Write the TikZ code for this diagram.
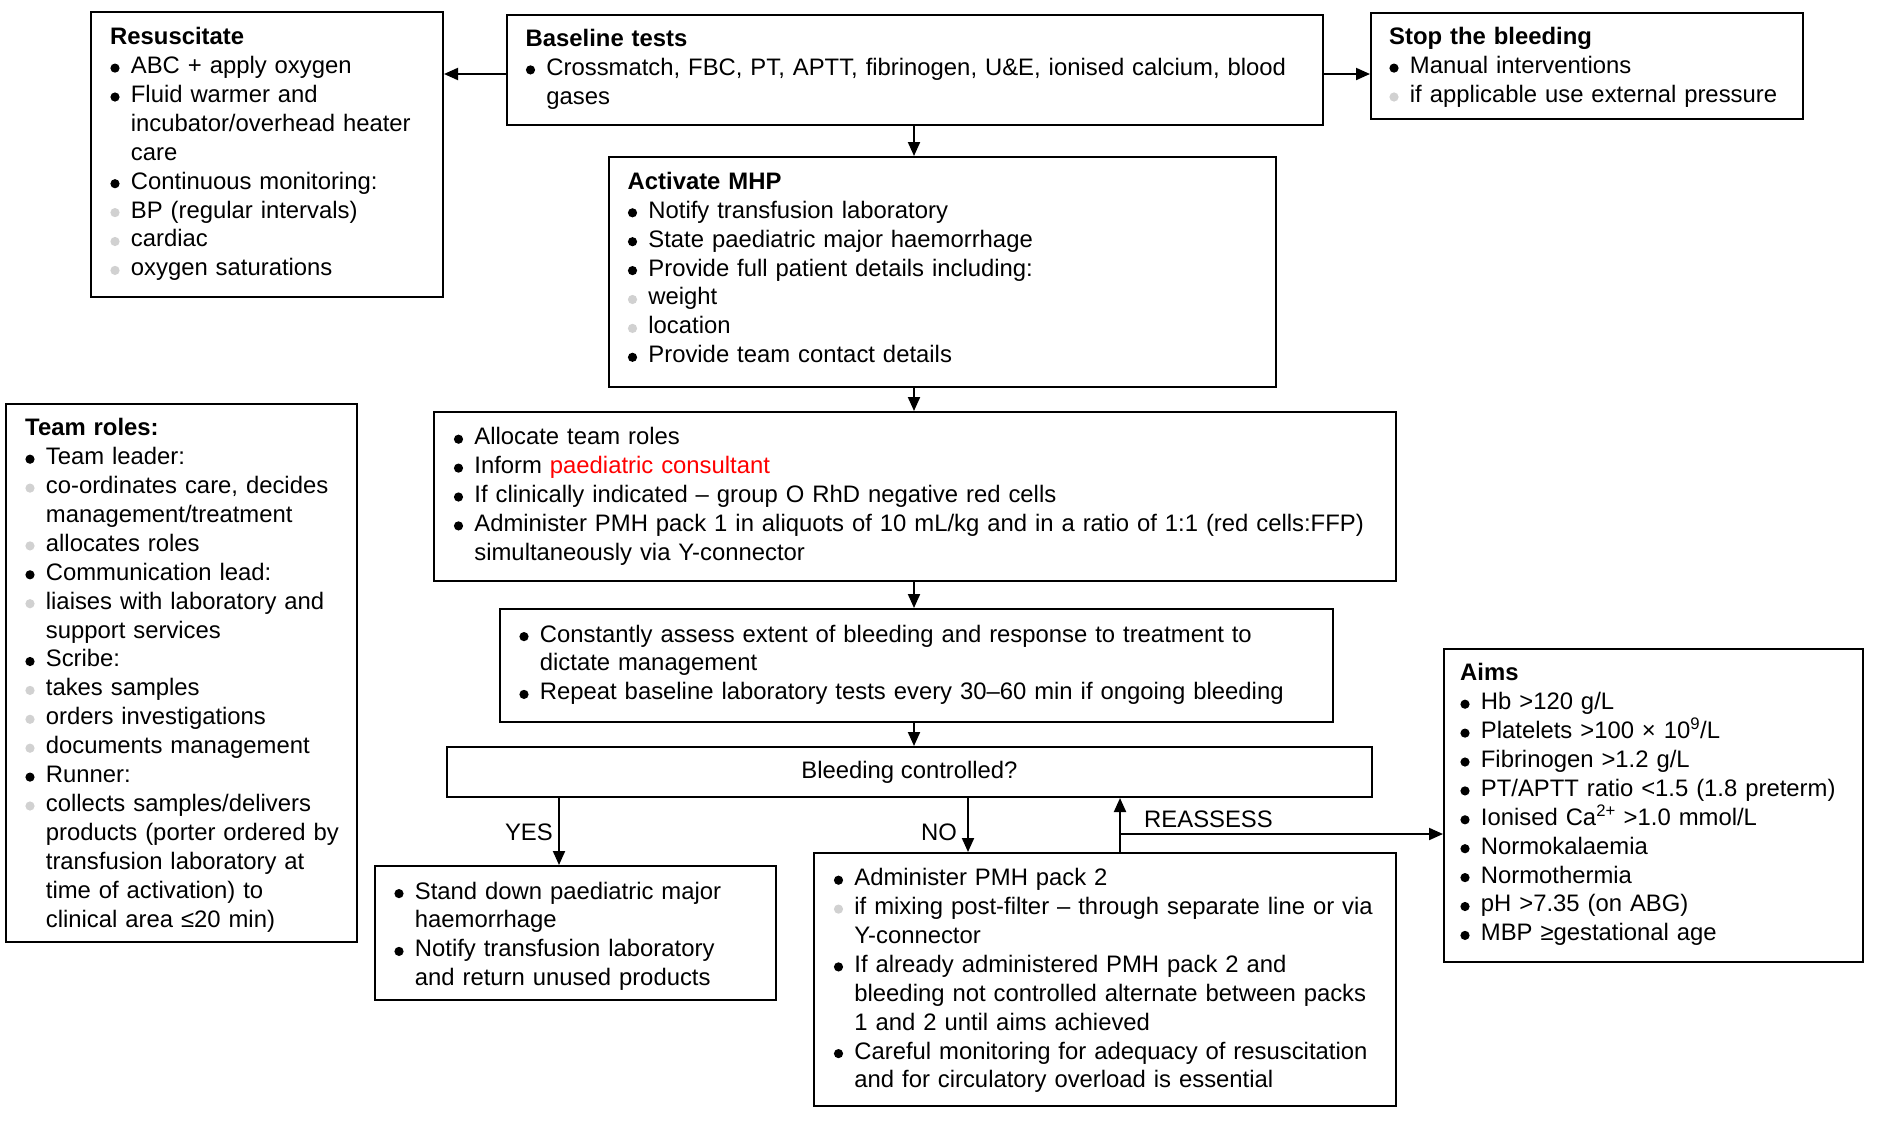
\documentclass[tikz,border=0pt]{standalone}
\usepackage{fontspec}
\setmainfont{Liberation Sans}
\usetikzlibrary{arrows.meta,calc}
\definecolor{subgray}{gray}{0.82}
\newcommand{\dotmark}[1]{\raisebox{0.8pt}{\tikz\fill[#1] (0pt,0pt) circle[radius=4.6pt];}}
\newcommand{\bul}{\makebox[20.7pt][l]{\hspace{0.2pt}\dotmark{black}}}
\newcommand{\sbul}{\makebox[20.7pt][l]{\hspace{0.2pt}\dotmark{subgray}}}
\newcommand{\itm}[1]{\par\hangindent=20.7pt\hangafter=1\noindent\bul#1}
\newcommand{\sitm}[1]{\par\hangindent=20.7pt\hangafter=1\noindent\sbul#1}
\newcommand{\fitm}[1]{\hangindent=20.7pt\hangafter=1\bul#1}
\newcommand{\hd}[1]{\noindent{\bfseries #1}}
\begin{document}
\begin{tikzpicture}[x=1pt,y=-1pt,
  box/.style={draw, line width=2pt, rectangle, inner sep=0pt, anchor=north west},
  txt/.style={inner sep=0pt, anchor=base west, font=\fontsize{23.85pt}{28.9pt}\selectfont, text width=1300pt},
  lbl/.style={inner sep=0pt, font=\fontsize{23.85pt}{28.9pt}\selectfont},
  arr/.style={line width=2pt, -{Triangle[length=14pt,width=12pt]}}]
\useasboundingbox (0,0) rectangle (1878,1120);
\fill[white] (0,0) rectangle (1878,1120);

% boxes
\node[box, minimum width=352pt, minimum height=285pt] (res) at (90,11) {};
\node[box, minimum width=816pt, minimum height=110pt] (base) at (506,14) {};
\node[box, minimum width=432pt, minimum height=106pt] (stop) at (1370,12) {};
\node[box, minimum width=667pt, minimum height=230pt] (mhp) at (608,156) {};
\node[box, minimum width=962pt, minimum height=169pt] (alloc) at (433,411) {};
\node[box, minimum width=833pt, minimum height=113pt] (const) at (499,608) {};
\node[box, minimum width=351pt, minimum height=538pt] (team) at (5,403) {};
\node[box, minimum width=925pt, minimum height=50pt, font=\fontsize{23.85pt}{28.9pt}\selectfont] (bleed) at (446,746) {Bleeding controlled?};
\node[box, minimum width=401pt, minimum height=134pt] (yesbox) at (374,865) {};
\node[box, minimum width=582pt, minimum height=253pt] (nobox) at (813,852) {};
\node[box, minimum width=419pt, minimum height=313pt] (aims) at (1443,648) {};

% texts
\node[txt] (res-t) at (110,44.6) {\hd{Resuscitate}
\itm{ABC + apply oxygen}
\itm{Fluid warmer and\newline incubator/overhead heater\newline care}
\itm{Continuous monitoring:}
\sitm{BP (regular intervals)}
\sitm{cardiac}
\sitm{oxygen saturations}\par};

\node[txt] (base-t) at (525.5,46.4) {\hd{Baseline tests}
\itm{Crossmatch, FBC, PT, APTT, fibrinogen, U\&E, ionised calcium, blood\newline gases}\par};

\node[txt] (stop-t) at (1389,44.6) {\hd{Stop the bleeding}
\itm{Manual interventions}
\sitm{if applicable use external pressure}\par};

\node[txt] (mhp-t) at (627.5,189.3) {\hd{Activate MHP}
\itm{Notify transfusion laboratory}
\itm{State paediatric major haemorrhage}
\itm{Provide full patient details including:}
\sitm{weight}
\sitm{location}
\itm{Provide team contact details}\par};

\node[txt] (alloc-t) at (453.5,444.6) {\fitm{Allocate team roles}
\itm{Inform \textcolor{red}{paediatric consultant}}
\itm{If clinically indicated – group O RhD negative red cells}
\itm{Administer PMH pack 1 in aliquots of 10 mL/kg and in a ratio of 1:1 (red cells:FFP)\newline simultaneously via Y-connector}\par};

\node[txt] (const-t) at (519,642) {\fitm{Constantly assess extent of bleeding and response to treatment to\newline dictate management}
\itm{Repeat baseline laboratory tests every 30–60 min if ongoing bleeding}\par};

\node[txt] (team-t) at (25,435.7) {\hd{Team roles:}
\itm{Team leader:}
\sitm{co-ordinates care, decides\newline management/treatment}
\sitm{allocates roles}
\itm{Communication lead:}
\sitm{liaises with laboratory and\newline support services}
\itm{Scribe:}
\sitm{takes samples}
\sitm{orders investigations}
\sitm{documents management}
\itm{Runner:}
\sitm{collects samples/delivers\newline products (porter ordered by\newline transfusion laboratory at\newline time of activation) to\newline clinical area ≤20 min)}\par};

\node[txt] (yes-t) at (394,899) {\fitm{Stand down paediatric major\newline haemorrhage}
\itm{Notify transfusion laboratory\newline and return unused products}\par};

\node[txt] (no-t) at (833.5,885.6) {\fitm{Administer PMH pack 2}
\sitm{if mixing post-filter – through separate line or via\newline Y-connector}
\itm{If already administered PMH pack 2 and\newline bleeding not controlled alternate between packs\newline 1 and 2 until aims achieved}
\itm{Careful monitoring for adequacy of resuscitation\newline and for circulatory overload is essential}\par};

\node[txt] (aims-t) at (1460,680.7) {\hd{Aims}
\itm{Hb >120 g/L}
\itm{Platelets >100 × 10\textsuperscript{9}/L}
\itm{Fibrinogen >1.2 g/L}
\itm{PT/APTT ratio <1.5 (1.8 preterm)}
\itm{Ionised Ca\textsuperscript{2+} >1.0 mmol/L}
\itm{Normokalaemia}
\itm{Normothermia}
\itm{pH >7.35 (on ABG)}
\itm{MBP ≥gestational age}\par};

% connectors
\coordinate (bl) at (506,74);
\coordinate (cx) at (914,0);
\coordinate (yx) at (559,0);
\coordinate (nx) at (968,0);
\coordinate (rx) at (1120,0);
\coordinate (rj) at (1120,834);
\draw[arr] (bl) -- (bl -| res.east);
\draw[arr] (bl -| base.east) -- (bl -| stop.west);
\draw[arr] (base.south -| cx) -- (mhp.north -| cx);
\draw[arr] (mhp.south -| cx) -- (alloc.north -| cx);
\draw[arr] (alloc.south -| cx) -- (const.north -| cx);
\draw[arr] (const.south -| cx) -- (bleed.north -| cx);
\draw[arr] (bleed.south -| yx) -- (yesbox.north -| yx);
\draw[arr] (bleed.south -| nx) -- (nobox.north -| nx);
\draw[arr] (nobox.north -| rx) -- (bleed.south -| rx);
\draw[arr] (rj) -- (rj -| aims.west);

\node[lbl, anchor=base east] (yes-l) at (553,840.3) {YES};
\node[lbl, anchor=base east] (no-l) at (957,840.3) {NO};
\node[lbl, anchor=base west] (re-l) at (1144,827) {REASSESS};
\end{tikzpicture}
\end{document}
